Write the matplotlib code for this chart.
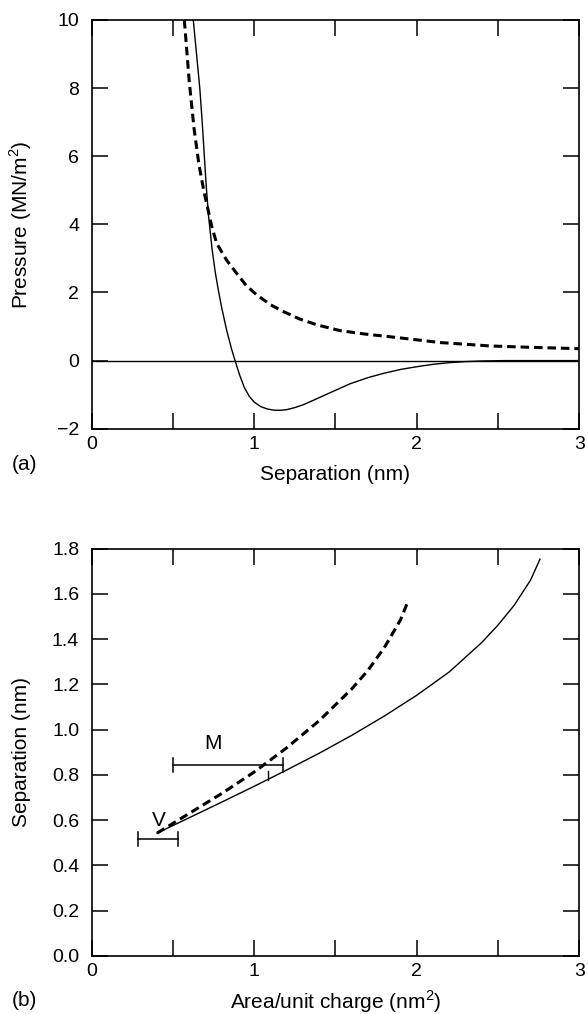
import matplotlib
matplotlib.use("Agg")
import matplotlib.pyplot as plt

plt.rcParams['font.family'] = ['Liberation Sans', 'DejaVu Sans']
plt.rcParams['mathtext.fontset'] = 'custom'
plt.rcParams['mathtext.rm'] = 'Liberation Sans'

# (a) pressure vs separation
sep_solid = [0.625, 0.645, 0.665, 0.68, 0.693, 0.705, 0.72, 0.74, 0.76, 0.78,
             0.80, 0.83, 0.86, 0.882, 0.91, 0.94, 0.97, 1.00, 1.04, 1.08, 1.12,
             1.16, 1.20, 1.25, 1.30, 1.385, 1.45, 1.52, 1.59, 1.70, 1.80, 1.90,
             2.00, 2.10, 2.20, 2.30, 2.41, 2.55, 3.00]
p_solid = [10.0, 9.0, 8.0, 7.0, 6.0, 5.1, 4.2, 3.3, 2.6, 2.05,
           1.55, 0.90, 0.35, 0.0, -0.42, -0.80, -1.05, -1.22, -1.35, -1.42, -1.455,
           -1.46, -1.44, -1.38, -1.30, -1.12, -0.98, -0.83, -0.68, -0.50, -0.37, -0.26,
           -0.18, -0.11, -0.06, -0.03, -0.01, 0.0, 0.0]

sep_dash = [0.57, 0.60, 0.63, 0.66, 0.69, 0.715, 0.738, 0.769, 0.83, 0.892, 0.95,
            1.015, 1.10, 1.179, 1.28, 1.385, 1.528, 1.68, 1.836, 2.00, 2.143, 2.30,
            2.45, 2.70, 3.00]
p_dash = [10.0, 8.2, 6.8, 5.75, 4.98, 4.45, 3.95, 3.44, 2.95, 2.56, 2.21,
          1.93, 1.64, 1.44, 1.22, 1.05, 0.88, 0.78, 0.70, 0.61, 0.53, 0.48,
          0.43, 0.39, 0.35]

# (b) separation vs area per unit charge
area_solid = [0.402, 0.6, 0.8, 1.0, 1.2, 1.4, 1.6, 1.8, 2.0, 2.2, 2.4, 2.5, 2.6,
              2.7, 2.759]
d_solid = [0.543, 0.611, 0.680, 0.750, 0.822, 0.896, 0.975, 1.060, 1.152, 1.255,
           1.385, 1.462, 1.550, 1.660, 1.754]

area_dash = [0.402, 0.6, 0.8, 1.0, 1.2, 1.4, 1.6, 1.7, 1.8, 1.9, 1.948]
d_dash = [0.543, 0.630, 0.718, 0.813, 0.920, 1.040, 1.180, 1.262, 1.362, 1.485, 1.570]

# error bars: (label, x_low, x_high, y)
bars = [("M", 0.50, 1.178, 0.845), ("V", 0.285, 0.531, 0.516)]

xticks = [0, 0.5, 1, 1.5, 2, 2.5, 3]
xticklabels = ["0", "", "1", "", "2", "", "3"]
yticks_a = [-2, 0, 2, 4, 6, 8, 10]
yticklabels_a = ["\u22122", "0", "2", "4", "6", "8", "10"]
yticks_b = [0.0, 0.2, 0.4, 0.6, 0.8, 1.0, 1.2, 1.4, 1.6, 1.8]

fig = plt.figure(figsize=(5.88, 10.14), dpi=100)
ax1 = fig.add_axes([0.156, 0.5772, 0.829, 0.4031])
ax2 = fig.add_axes([0.156, 0.0572, 0.829, 0.4017])

for ax in (ax1, ax2):
    for s in ax.spines.values():
        s.set_linewidth(1.2)
    ax.tick_params(direction='in', length=11.5, width=1.1, top=True, right=True,
                   labelsize=14, colors='black')
    ax.tick_params(axis='y', pad=9)
    ax.tick_params(axis='x', pad=5)
    ax.set_xticks(xticks)
    ax.set_xticklabels(xticklabels)
    ax.set_xlim(0, 3)

# panel (a)
ax1.plot(sep_solid, p_solid, color='black', lw=1.0)
ax1.plot(sep_dash, p_dash, color='black', lw=2.2, dashes=(2.8, 1.6))
ax1.axhline(0, color='black', lw=1.0)
ax1.set_ylim(-2, 10)
ax1.set_yticks(yticks_a)
ax1.set_yticklabels(yticklabels_a)
ax1.set_xlabel("Separation (nm)", fontsize=15, va='center')
ax1.set_ylabel("Pressure (MN/m$^{2}$)", fontsize=15, va='center')
ax1.xaxis.set_label_coords(0.5, -0.111)
ax1.yaxis.set_label_coords(-0.145, 0.5)

# panel (b)
ax2.plot(area_solid, d_solid, color='black', lw=1.0)
ax2.plot(area_dash, d_dash, color='black', lw=2.2, dashes=(2.8, 1.6))
for lab, x0, x1, y in bars:
    ax2.plot([x0, x1], [y, y], color='black', lw=1.1)
    ax2.plot([x0, x0], [y - 0.03, y + 0.03], color='black', lw=1.1)
    ax2.plot([x1, x1], [y - 0.03, y + 0.03], color='black', lw=1.1)
# small tick under the M bar
ax2.plot([1.082, 1.082], [0.778, 0.816], color='black', lw=1.0)
ax2.text(0.747, 0.94, "M", fontsize=15, ha='center', va='center')
ax2.text(0.414, 0.60, "V", fontsize=15, ha='center', va='center')
ax2.set_ylim(0, 1.8)
ax2.set_yticks(yticks_b)
ax2.set_yticklabels([f"{v:.1f}" for v in yticks_b])
ax2.set_xlabel("Area/unit charge (nm$^{2}$)", fontsize=15, va='center')
ax2.set_ylabel("Separation (nm)", fontsize=15, va='center')
ax2.xaxis.set_label_coords(0.5, -0.111)
ax2.yaxis.set_label_coords(-0.145, 0.5)

fig.text(12 / 588, 1 - 465 / 1014, "(a)", fontsize=15, ha='left', va='center')
fig.text(12 / 588, 1 - 1000 / 1014, "(b)", fontsize=15, ha='left', va='center')

fig.savefig("out.png", dpi=100)
